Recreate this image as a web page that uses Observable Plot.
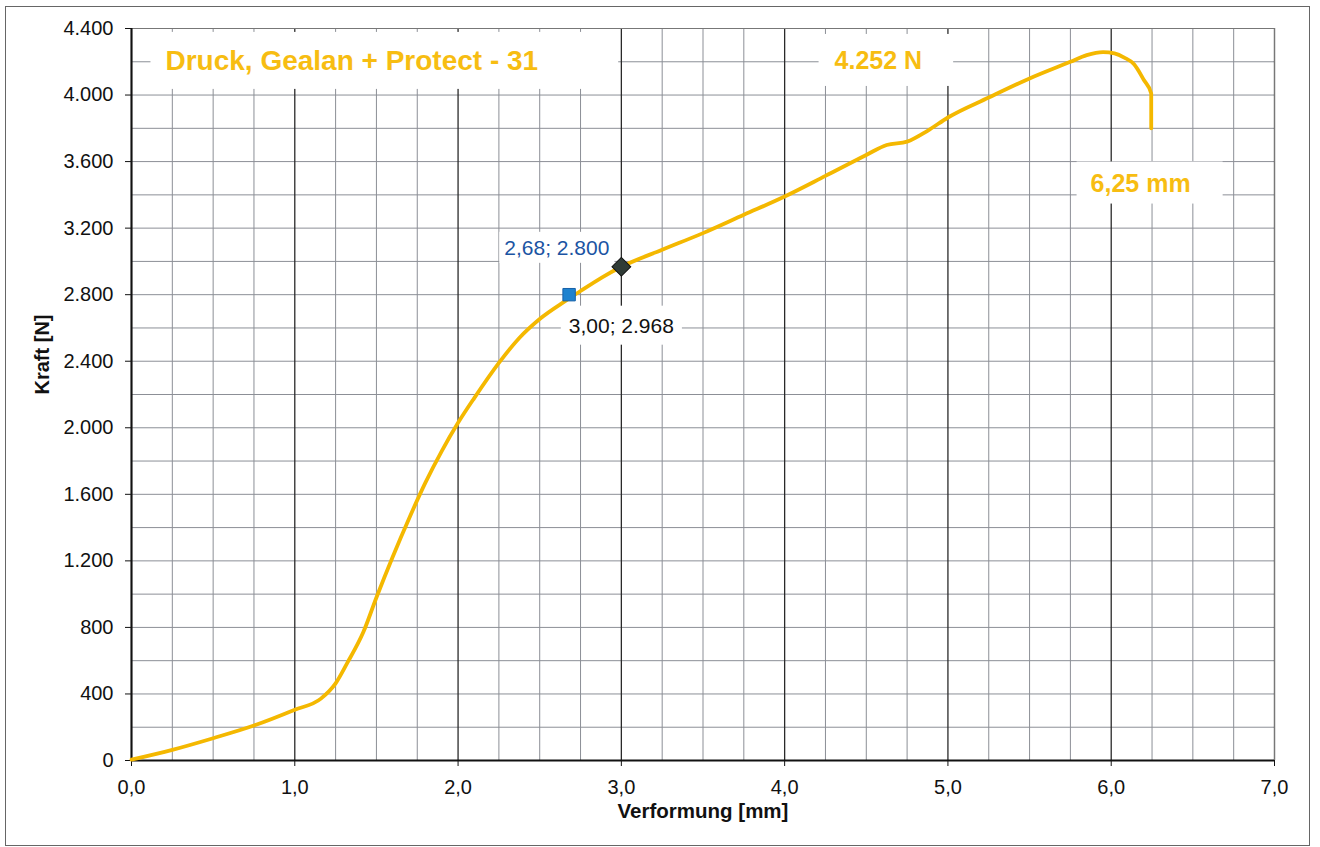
<!DOCTYPE html>
<html><head><meta charset="utf-8">
<script src="https://cdn.jsdelivr.net/npm/d3@7"></script>
<script src="https://cdn.jsdelivr.net/npm/@observablehq/plot@0.6"></script>
<style>
body{margin:0;background:#fff;font-family:"Liberation Sans",Arial,sans-serif;}
#wrap{position:relative;width:1320px;height:847px;overflow:hidden;}
#frame{position:absolute;left:5px;top:6px;width:1305px;height:840px;border:1.5px solid #666;box-sizing:border-box;pointer-events:none;}
#wrap svg{position:absolute;left:0;top:0;}
</style></head><body><div id="wrap"><div id="frame"></div></div>
<script>
// Curve: Verformung [mm] vs Kraft [N]
const deformation = [0.00, 0.25, 0.50, 0.75, 1.00, 1.16, 1.25, 1.32, 1.42, 1.50, 1.60, 1.70, 1.80, 1.90, 2.00, 2.10, 2.25, 2.375, 2.50, 2.66, 2.75, 2.88, 3.00, 3.25, 3.50, 3.75, 4.00, 4.25, 4.50, 4.625, 4.75, 4.875, 5.00, 5.25, 5.50, 5.75, 5.85, 5.95, 6.02, 6.08, 6.14, 6.20, 6.245, 6.245];
const force       = [5, 64, 134, 210, 305, 372, 464, 584, 772, 980, 1225, 1455, 1670, 1860, 2030, 2180, 2390, 2540, 2654, 2764, 2822, 2903, 2968, 3070, 3170, 3280, 3390, 3514, 3640, 3700, 3720, 3785, 3865, 3985, 4100, 4200, 4240, 4258, 4250, 4225, 4185, 4090, 4010, 3800];

// Marked points
const squareX = [2.68], squareY = [2800];
const diamondX = [3.00], diamondY = [2968];

// Annotation texts
const labelText = ["Druck, Gealan + Protect - 31", "4.252 N", "6,25 mm", "2,68; 2.800", "3,00; 2.968"];
const labelX = [0.208, 4.574, 6.18, 2.605, 3.0];
const labelY = [4205, 4205, 3468, 3080, 2612];

// Axes ticks
const xTicks = [0, 1, 2, 3, 4, 5, 6, 7];
const xMinor = [0.25, 0.5, 0.75, 1.25, 1.5, 1.75, 2.25, 2.5, 2.75, 3.25, 3.5, 3.75, 4.25, 4.5, 4.75, 5.25, 5.5, 5.75, 6.25, 6.5, 6.75];
const yTicks = [0, 400, 800, 1200, 1600, 2000, 2400, 2800, 3200, 3600, 4000, 4400];
const yMinor = [200, 600, 1000, 1400, 1800, 2200, 2600, 3000, 3400, 3800, 4200];

const curve = deformation.map((d, i) => ({x: d, y: force[i]}));
const labels = labelText.map((t, i) => ({t, x: labelX[i], y: labelY[i], i}));

const loc = d3.formatLocale({decimal: ",", thousands: ".", grouping: [3], currency: ["", "€"]});
const fy = loc.format(",d");
const fx = loc.format(".1f");

const gold = "#F4B800";

const chart = Plot.plot({
  width: 1320, height: 847,
  marginLeft: 131, marginRight: 46, marginTop: 28, marginBottom: 87,
  x: {domain: [0, 7]},
  y: {domain: [0, 4400]},
  style: {fontFamily: "'Liberation Sans', Arial, sans-serif", fontSize: "20px", color: "#111", background: "transparent"},
  marks: [
    Plot.ruleX(xMinor, {stroke: "#8c8f96", strokeWidth: 1}),
    Plot.ruleY(yMinor, {stroke: "#8c8f96", strokeWidth: 1}),
    Plot.ruleY(yTicks, {stroke: "#8c8f96", strokeWidth: 1}),
    Plot.ruleX(xTicks, {stroke: "#2a2a2a", strokeWidth: 1.3}),
    Plot.frame({stroke: "#777", strokeWidth: 1}),
    Plot.ruleX([0], {stroke: "#111", strokeWidth: 2}),
    Plot.ruleY([0], {stroke: "#111", strokeWidth: 2}),
    Plot.axisX({ticks: xTicks, tickFormat: fx, tickSize: 6, tickPadding: 13, label: null, fontSize: 20, stroke: "#111"}),
    Plot.axisY({ticks: yTicks, tickFormat: fy, tickSize: 6, tickPadding: 12, label: null, fontSize: 20, stroke: "#111"}),
    Plot.text(["Verformung [mm]"], {frameAnchor: "bottom", dy: 57, fontWeight: "bold", fontSize: 20.5, fill: "#111"}),
    Plot.text(["Kraft [N]"], {frameAnchor: "left", dx: -89, rotate: -90, fontWeight: "bold", fontSize: 20, fill: "#111"}),
    // annotation labels (white boxes added afterwards)
    Plot.text(labels.filter(d => d.i === 0), {x: "x", y: "y", text: "t", textAnchor: "start", fill: "#F7BD12", fontWeight: "bold", fontSize: 28, className: "lbl-title"}),
    Plot.text(labels.filter(d => d.i === 1 || d.i === 2), {x: "x", y: "y", text: "t", fill: "#F7BD12", fontWeight: "bold", fontSize: 25, className: "lbl-gold"}),
    Plot.text(labels.filter(d => d.i === 3), {x: "x", y: "y", text: "t", fill: "#1B54A3", fontSize: 21, className: "lbl-blue"}),
    Plot.text(labels.filter(d => d.i === 4), {x: "x", y: "y", text: "t", fill: "#111", fontSize: 21, className: "lbl-black"}),
    Plot.line(curve, {x: "x", y: "y", stroke: gold, strokeWidth: 3.8, curve: "monotone-x", strokeLinejoin: "round"}),
    Plot.dot(squareX.map((d, i) => ({x: d, y: squareY[i]})), {x: "x", y: "y", symbol: "square", r: 7, fill: "#1E82CF", stroke: "#1560A8", strokeWidth: 1}),
    Plot.dot(diamondX.map((d, i) => ({x: d, y: diamondY[i]})), {x: "x", y: "y", symbol: "square", rotate: 45, r: 7.5, fill: "#2F3B36", stroke: "#111", strokeWidth: 1})
  ]
});

document.getElementById("wrap").appendChild(chart);

// white boxes behind annotation labels: [left, right, top, bottom] padding
const pads = {"lbl-title": [15, 80, 16, 16], "lbl-gold": [16, 31, 15, 15], "lbl-blue": [5, 5, 7, 7], "lbl-black": [8, 8, 11, 11]};
Object.entries(pads).forEach(([cls, [pl, pr, pt, pb]]) => {
  chart.querySelectorAll("g." + cls + " text").forEach((t, k) => {
    const b = t.getBBox();
    let [l, r_, tp, bt] = [pl, pr, pt, pb];
    if (cls === "lbl-gold" && t.textContent.includes("mm")) { l = 14; r_ = 32; tp = 10; bt = 10; }
    const r = document.createElementNS("http://www.w3.org/2000/svg", "rect");
    r.setAttribute("x", b.x - l);
    r.setAttribute("y", b.y - tp + 3);
    r.setAttribute("width", b.width + l + r_);
    r.setAttribute("height", b.height + tp + bt - 6);
    r.setAttribute("fill", "#fff");
    if (t.getAttribute("transform")) r.setAttribute("transform", t.getAttribute("transform"));
    t.parentNode.insertBefore(r, t);
  });
});
</script>
</body></html>
